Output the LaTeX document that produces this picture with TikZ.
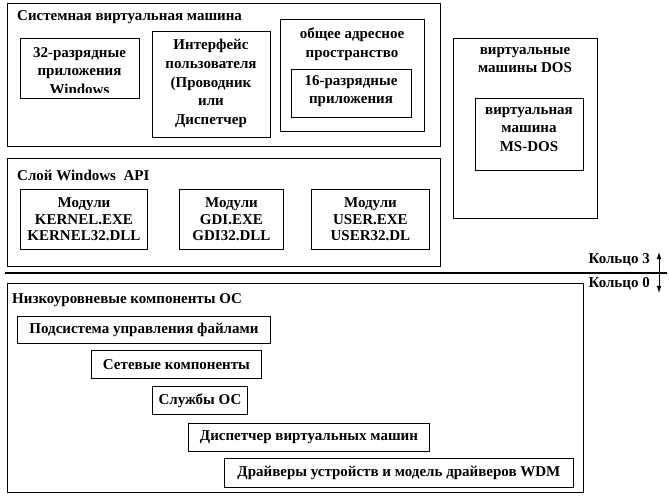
\documentclass[tikz,border=0pt]{standalone}
\usepackage{fontspec}
\setmainfont{Liberation Serif}
\usetikzlibrary{arrows.meta,positioning}

\begin{document}
\begin{tikzpicture}[
  x=1pt, y=-1pt,
  box/.style={draw, line width=0.9pt, anchor=north west, inner sep=0pt},
  txt/.style={align=center, inner sep=0pt, font=\fontsize{15}{18.7}\selectfont\bfseries},
  ttl/.style={anchor=west, inner sep=0pt, font=\fontsize{15}{18}\selectfont\bfseries},
  modbox/.style={draw, line width=0.9pt, anchor=north west, align=center, inner sep=0pt, font=\fontsize{15}{16.5}\selectfont\bfseries},
  sepline/.style={line width=2.6pt},
  arr/.style={{Latex[length=2.5mm,width=1.6mm]}-{Latex[length=2.5mm,width=1.6mm]}, line width=0.7pt}
]
\useasboundingbox (0,0) rectangle (669,497);
\node[box, minimum width=433pt, minimum height=143pt] (sysvm) at (7,3) {};
\node[ttl] (sysvmT) at (17,17) {Системная виртуальная машина};
\node[box, minimum width=119pt, minimum height=60pt] (app32) at (20,38) {};
\begin{scope}
\clip (20,38) rectangle (139,93);
\node[txt, anchor=north] (app32T) at (79.5,47) {32-разрядные\\приложения\\Windows};
\end{scope}
\node[box, minimum width=118pt, minimum height=106pt] (ui) at (152,31) {};
\node[txt, anchor=north] (uiT) at (211,39) {Интерфейс\\пользователя\\(Проводник\\или\\Диспетчер};
\node[box, minimum width=144pt, minimum height=112pt] (addr) at (280,19) {};
\node[txt, anchor=north] (addrT) at (352,28) {общее адресное\\пространство};
\node[box, minimum width=120pt, minimum height=48pt] (app16) at (291,69) {};
\node[txt, anchor=north] (app16T) at (351,75) {16-разрядные\\приложения};
\node[box, minimum width=144pt, minimum height=180pt] (dosvm) at (453,38) {};
\node[txt, anchor=north] (dosvmT) at (525,47) {виртуальные\\машины DOS};
\node[box, minimum width=108pt, minimum height=72pt] (msdos) at (475,98) {};
\node[txt, anchor=north] (msdosT) at (529,107) {виртуальная\\машина\\MS-DOS};
\node[box, minimum width=433pt, minimum height=108pt] (winapi) at (7,158) {};
\node[ttl] (winapiT) at (17,175) {Слой Windows\ \ API};
\node[modbox, minimum width=127pt, minimum height=60pt] (kernel) at (20,189) {Модули\\KERNEL.EXE\\KERNEL32.DLL};
\node[modbox, minimum width=104pt, minimum height=60pt] (gdi) at (179,189) {Модули\\GDI.EXE\\GDI32.DLL};
\node[modbox, minimum width=118pt, minimum height=60pt] (user) at (311,189) {Модули\\USER.EXE\\USER32.DL};
\coordinate (sepL) at (5,273);
\coordinate (sepR) at (667,273);
\draw[sepline] (sepL) -- (sepR);
\node[txt, anchor=east] (ring3) at (650,260) {Кольцо 3};
\node[txt, anchor=east] (ring0) at (650,284) {Кольцо 0};
\coordinate (ringU) at (659,252);
\coordinate (ringD) at (659,293);
\draw[arr] (ringU) -- (ringD);
\node[box, minimum width=576pt, minimum height=209pt] (lowlvl) at (7,283) {};
\node[ttl] (lowlvlT) at (12,300) {Низкоуровневые компоненты ОС};
\node[modbox, minimum width=253pt, minimum height=27pt] (fs) at (17,316) {Подсистема управления файлами};
\node[modbox, minimum width=170pt, minimum height=28pt] (net) at (91,350) {Сетевые компоненты};
\node[modbox, minimum width=95pt, minimum height=28pt] (svc) at (152,386) {Службы ОС};
\node[modbox, minimum width=241pt, minimum height=28pt] (vmm) at (188,423) {Диспетчер виртуальных машин};
\node[modbox, minimum width=349pt, minimum height=29pt] (wdm) at (224,458) {Драйверы устройств и модель драйверов WDM};
\end{tikzpicture}
\end{document}
